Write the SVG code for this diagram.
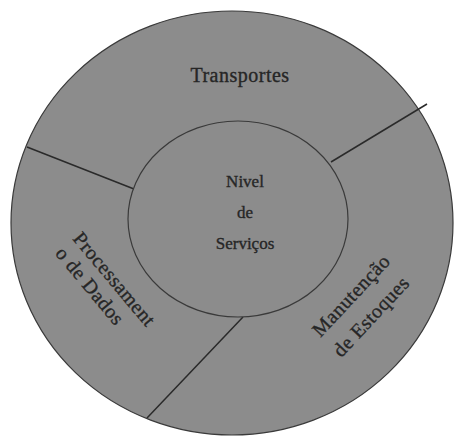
<svg xmlns="http://www.w3.org/2000/svg" width="454" height="437" viewBox="0 0 454 437">
  <style>
    .disc { fill: #8c8c8c; stroke: #3a3a3a; stroke-width: 1.2; }
    .div { stroke: #2a2a2a; stroke-width: 1.5; fill: none; }
    .lbl { font-family: "Liberation Serif", "Times New Roman", serif; fill: #262626; stroke: #262626; stroke-width: 0.35; }
    .big { font-size: 20px; letter-spacing: 0.5px; }
    .mid { font-size: 17px; }
  </style>
  <rect width="454" height="437" fill="#ffffff"/>
  <g id="outer">
    <ellipse class="disc" cx="232" cy="223" rx="221" ry="212"/>
  </g>
  <g id="connectors">
    <line class="div" x1="27" y1="147" x2="134" y2="189"/>
    <line class="div" x1="331" y1="162" x2="427" y2="104"/>
    <line class="div" x1="243" y1="317" x2="147" y2="418"/>
  </g>
  <g id="inner">
    <ellipse class="disc" cx="238" cy="219" rx="110" ry="98"/>
  </g>
  <g id="transportes">
    <text class="lbl big" x="240" y="82" text-anchor="middle">Transportes</text>
  </g>
  <g id="nivel">
    <text class="lbl mid" x="245" y="187" text-anchor="middle">Nivel</text>
    <text class="lbl mid" x="245" y="218" text-anchor="middle">de</text>
    <text class="lbl mid" x="245" y="249" text-anchor="middle">Serviços</text>
  </g>
  <g id="processamento" transform="translate(72,239) rotate(50)">
    <text class="lbl big" x="0" y="0">Processament</text>
    <text class="lbl big" x="0" y="23">o de Dados</text>
  </g>
  <g id="manutencao">
    <text class="lbl big" text-anchor="middle" transform="translate(356,300) rotate(-47)">Manutenção</text>
    <text class="lbl big" text-anchor="middle" transform="translate(376,321) rotate(-47)">de Estoques</text>
  </g>
</svg>
